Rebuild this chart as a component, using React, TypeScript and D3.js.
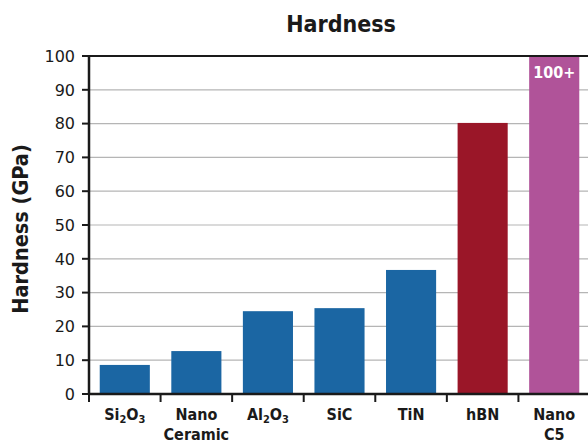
import React from "react";
import * as d3 from "d3";

const categories = ["Si2O3", "NanoCeramic", "Al2O3", "SiC", "TiN", "hBN", "NanoC5"];
const values = [8.6, 12.7, 24.5, 25.4, 36.7, 80.2, 100];
const barColors = ["#1b66a3", "#1b66a3", "#1b66a3", "#1b66a3", "#1b66a3", "#9a1628", "#b05399"];
const yTicks = [0, 10, 20, 30, 40, 50, 60, 70, 80, 90, 100];
// label parts: [text, isSub]
const labelLines: [string, boolean][][][] = [
  [[["Si", false], ["2", true], ["O", false], ["3", true]]],
  [[["Nano", false]], [["Ceramic", false]]],
  [[["Al", false], ["2", true], ["O", false], ["3", true]]],
  [[["SiC", false]]],
  [[["TiN", false]]],
  [[["hBN", false]]],
  [[["Nano", false]], [["C5", false]]],
];
const topLabel = "100+";

const W = 588, H = 445;
const left = 89, right = 590, top = 56, bottom = 394;
const font = "'DejaVu Sans Condensed', 'DejaVu Sans', sans-serif";
const tickFont = "'DejaVu Sans', sans-serif";

export default function App() {
  const x = d3.scaleBand<string>().domain(categories).range([left, right]).paddingInner(0.3).paddingOuter(0.15);
  const y = d3.scaleLinear().domain([0, 100]).range([bottom, top]);
  const step = x.step();
  const bandStart = (c: string) => x(c)! - (step - x.bandwidth()) / 2;
  return (
    <svg width={W} height={H} style={{ position: "absolute", left: 0, top: 0, background: "#fff" }}>
      <text x={341} y={32} textAnchor="middle" fontFamily={font} fontWeight="bold" fontSize={23} fill="#1a1a1a">Hardness</text>
      {yTicks.filter(t => t > 0 && t < 100).map(t => (
        <line key={t} x1={left} x2={W} y1={y(t)} y2={y(t)} stroke="#b5b5b5" strokeWidth={1.2} />
      ))}
      {categories.map((c, i) => (
        <rect key={c} x={x(c)} y={y(values[i])} width={x.bandwidth()} height={bottom - y(values[i])} fill={barColors[i]} />
      ))}
      <text x={x("NanoC5")! + x.bandwidth() / 2} y={y(100) + 22} textAnchor="middle" fontFamily={font} fontWeight="bold" fontSize={16} fill="#fff">{topLabel}</text>
      <line x1={left} x2={W} y1={y(100)} y2={y(100)} stroke="#1a1a1a" strokeWidth={2} />
      <line x1={left} x2={W} y1={bottom} y2={bottom} stroke="#1a1a1a" strokeWidth={2.5} />
      <line x1={left} x2={left} y1={y(100) - 1} y2={bottom + 1} stroke="#1a1a1a" strokeWidth={2.5} />
      {yTicks.map(t => (
        <g key={t}>
          <line x1={left - 7} x2={left} y1={y(t)} y2={y(t)} stroke="#1a1a1a" strokeWidth={2} />
          <text x={left - 14} y={y(t)} dy="0.36em" textAnchor="end" fontFamily={tickFont} fontSize={16} fill="#1a1a1a">{t}</text>
        </g>
      ))}
      {categories.map((c, i) => (
        <g key={c}>
          <line x1={bandStart(c)} x2={bandStart(c)} y1={bottom} y2={bottom + 8} stroke="#1a1a1a" strokeWidth={2} />
          {labelLines[i].map((line, li) => (
            <text key={li} x={x(c)! + x.bandwidth() / 2} y={bottom + 26 + li * 20} textAnchor="middle" fontFamily={font} fontWeight="bold" fontSize={16} fill="#1a1a1a">
              {line.map(([s, sub], k) => sub
                ? <tspan key={k} fontSize={11} dy={3}>{s}</tspan>
                : <tspan key={k} dy={k > 0 && line[k - 1][1] ? -3 : 0}>{s}</tspan>)}
            </text>
          ))}
        </g>
      ))}
      <text transform={`translate(28,${229}) rotate(-90)`} textAnchor="middle" fontFamily={font} fontWeight="bold" fontSize={21.5} fill="#1a1a1a">Hardness (GPa)</text>
    </svg>
  );
}
